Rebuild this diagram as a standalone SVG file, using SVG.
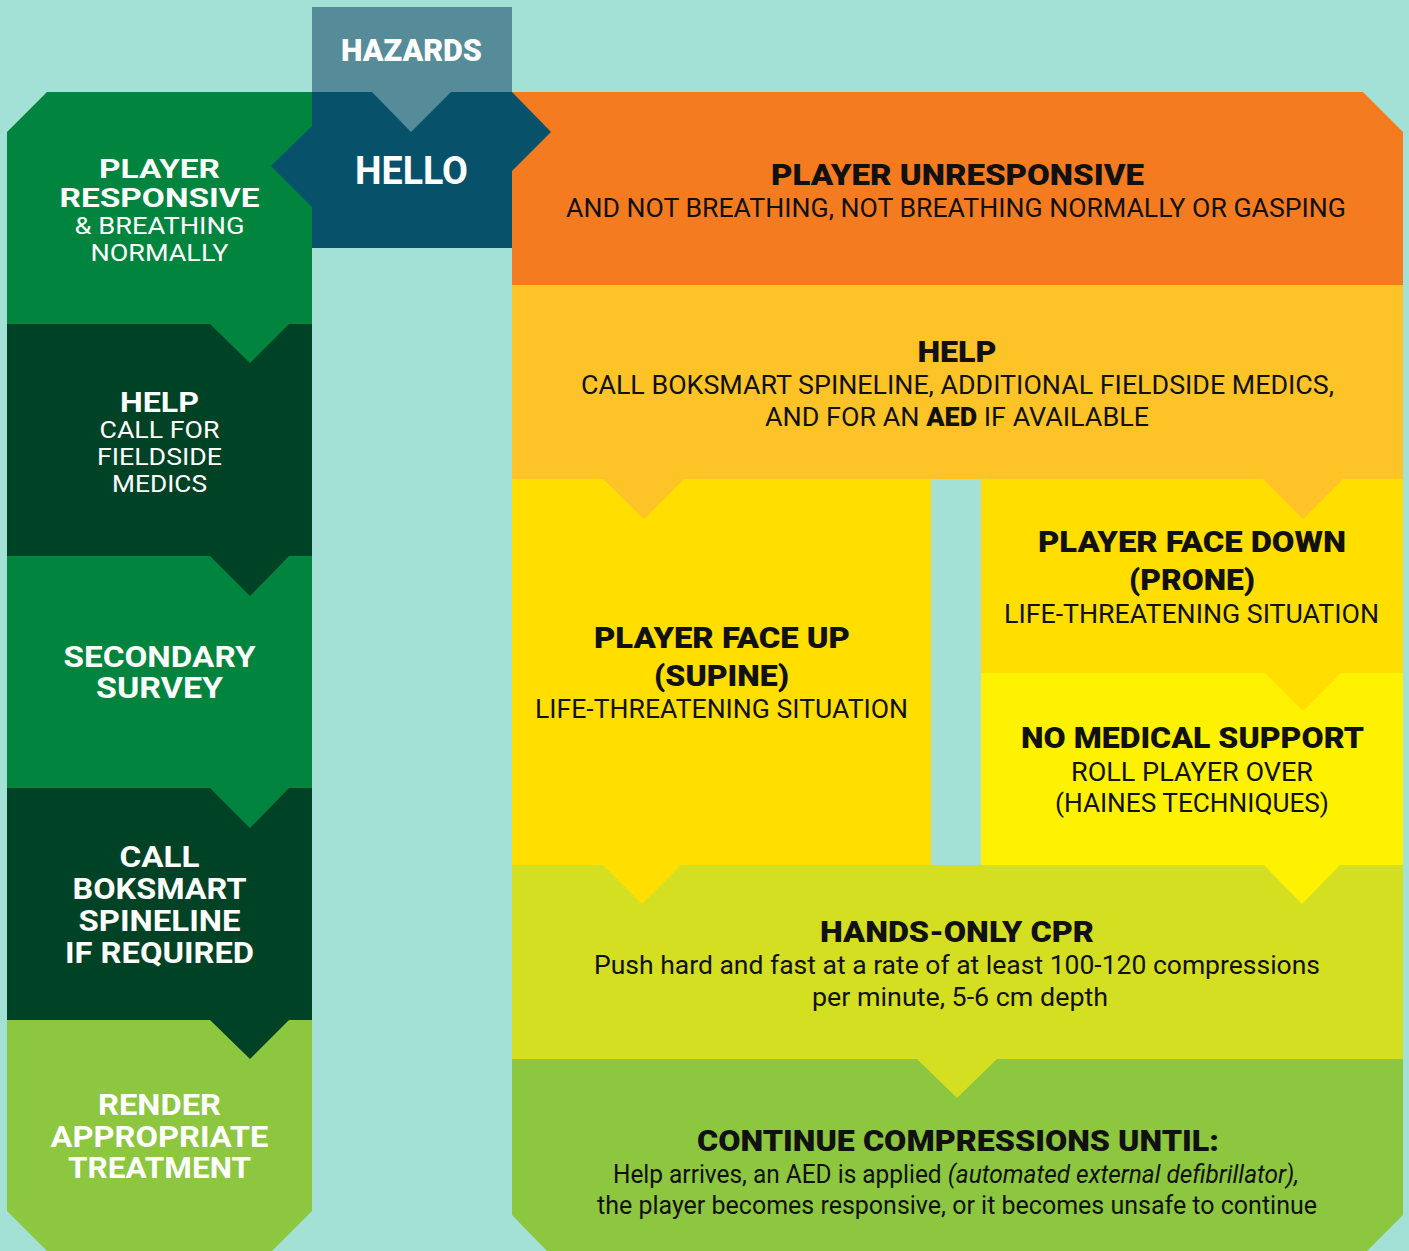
<svg xmlns="http://www.w3.org/2000/svg" width="1409" height="1251" viewBox="0 0 1409 1251">
<style>
.t{font-family:Roboto,"Liberation Sans",Arial,sans-serif;text-anchor:middle}
.w{fill:#ffffff}
.k{fill:#111111}
.b{font-weight:700;font-size:29px}
.bt{font-weight:700;font-size:27px}
.bs{font-weight:700;font-size:26px}
.h{font-weight:900;font-size:30px}
.r{font-weight:400;font-size:24px}
.s{font-weight:400;font-size:26px}
</style>
<rect x="0" y="0" width="1409" height="1251" fill="#a3e0d6"/>

<!-- left column nodes -->
<g id="node-player-responsive">
<polygon points="7,132 47,92 312,92 312,324 7,324" fill="#00843e"/>
<text class="t w bs" x="159.5" y="178" textLength="121" lengthAdjust="spacingAndGlyphs">PLAYER</text>
<text class="t w bs" x="159.5" y="207" textLength="200" lengthAdjust="spacingAndGlyphs">RESPONSIVE</text>
<text class="t w r" x="159.5" y="234" textLength="170" lengthAdjust="spacingAndGlyphs">&amp; BREATHING</text>
<text class="t w r" x="159.5" y="261" textLength="138" lengthAdjust="spacingAndGlyphs">NORMALLY</text>
</g>
<g id="node-help-left">
<rect x="7" y="324" width="305" height="232" fill="#004225"/>
<text class="t w bt" x="159.5" y="412" textLength="79" lengthAdjust="spacingAndGlyphs">HELP</text>
<text class="t w r" x="159.5" y="438" textLength="120" lengthAdjust="spacingAndGlyphs">CALL FOR</text>
<text class="t w r" x="159.5" y="465" textLength="125" lengthAdjust="spacingAndGlyphs">FIELDSIDE</text>
<text class="t w r" x="159.5" y="492" textLength="95" lengthAdjust="spacingAndGlyphs">MEDICS</text>
</g>
<g id="node-secondary-survey">
<rect x="7" y="556" width="305" height="232" fill="#00843e"/>
<text class="t w b" x="159.5" y="667" textLength="192" lengthAdjust="spacingAndGlyphs">SECONDARY</text>
<text class="t w b" x="159.5" y="698" textLength="127" lengthAdjust="spacingAndGlyphs">SURVEY</text>
</g>
<g id="node-call-spineline">
<rect x="7" y="788" width="305" height="232" fill="#004225"/>
<text class="t w b" x="159.5" y="867" textLength="80" lengthAdjust="spacingAndGlyphs">CALL</text>
<text class="t w b" x="159.5" y="899" textLength="174" lengthAdjust="spacingAndGlyphs">BOKSMART</text>
<text class="t w b" x="159.5" y="931" textLength="162" lengthAdjust="spacingAndGlyphs">SPINELINE</text>
<text class="t w b" x="159.5" y="963" textLength="189" lengthAdjust="spacingAndGlyphs">IF REQUIRED</text>
</g>
<g id="node-render-treatment">
<polygon points="7,1020 312,1020 312,1211 272,1251 47,1251 7,1211" fill="#8dc63f"/>
<text class="t w b" x="159.5" y="1115" textLength="123" lengthAdjust="spacingAndGlyphs">RENDER</text>
<text class="t w b" x="159.5" y="1147" textLength="218" lengthAdjust="spacingAndGlyphs">APPROPRIATE</text>
<text class="t w b" x="159.5" y="1178" textLength="183" lengthAdjust="spacingAndGlyphs">TREATMENT</text>
</g>

<!-- right column nodes -->
<g id="node-player-unresponsive">
<polygon points="512,92 1363,92 1403,132 1403,285 512,285" fill="#f47b20"/>
<text class="t k h" x="957.5" y="185" textLength="373" lengthAdjust="spacingAndGlyphs">PLAYER UNRESPONSIVE</text>
<text class="t k s" x="956" y="217" textLength="780" lengthAdjust="spacingAndGlyphs">AND NOT BREATHING, NOT BREATHING NORMALLY OR GASPING</text>
</g>
<g id="node-help-right">
<rect x="512" y="285" width="891" height="194" fill="#fec326"/>
<text class="t k h" x="957" y="362" textLength="79" lengthAdjust="spacingAndGlyphs">HELP</text>
<text class="t k s" x="957.5" y="394" textLength="753" lengthAdjust="spacingAndGlyphs">CALL BOKSMART SPINELINE, ADDITIONAL FIELDSIDE MEDICS,</text>
<text class="t k s" x="957" y="426" textLength="384" lengthAdjust="spacingAndGlyphs">AND FOR AN <tspan font-weight="900">AED</tspan> IF AVAILABLE</text>
</g>
<g id="node-face-up">
<rect x="512" y="479" width="419" height="386" fill="#ffde00"/>
<text class="t k h" x="722" y="648" textLength="256" lengthAdjust="spacingAndGlyphs">PLAYER FACE UP</text>
<text class="t k h" x="721.5" y="686" textLength="135" lengthAdjust="spacingAndGlyphs">(SUPINE)</text>
<text class="t k s" x="721.5" y="718" textLength="373" lengthAdjust="spacingAndGlyphs">LIFE-THREATENING SITUATION</text>
</g>
<g id="node-face-down">
<rect x="981" y="479" width="422" height="194" fill="#ffde00"/>
<text class="t k h" x="1192" y="552" textLength="308" lengthAdjust="spacingAndGlyphs">PLAYER FACE DOWN</text>
<text class="t k h" x="1192" y="590" textLength="126" lengthAdjust="spacingAndGlyphs">(PRONE)</text>
<text class="t k s" x="1191.5" y="623" textLength="375" lengthAdjust="spacingAndGlyphs">LIFE-THREATENING SITUATION</text>
</g>
<g id="node-no-medical">
<rect x="981" y="673" width="422" height="192" fill="#fff200"/>
<text class="t k h" x="1192.5" y="748" textLength="343" lengthAdjust="spacingAndGlyphs">NO MEDICAL SUPPORT</text>
<text class="t k s" x="1192" y="781" textLength="242" lengthAdjust="spacingAndGlyphs">ROLL PLAYER OVER</text>
<text class="t k s" x="1192" y="812" textLength="274" lengthAdjust="spacingAndGlyphs">(HAINES TECHNIQUES)</text>
</g>
<g id="node-cpr">
<rect x="512" y="865" width="891" height="194" fill="#d4df22"/>
<text class="t k h" x="957" y="942" textLength="274" lengthAdjust="spacingAndGlyphs">HANDS-ONLY CPR</text>
<text class="t k s" x="957" y="974" textLength="726" lengthAdjust="spacingAndGlyphs">Push hard and fast at a rate of at least 100-120 compressions</text>
<text class="t k s" x="960" y="1006" textLength="296" lengthAdjust="spacingAndGlyphs">per minute, 5-6 cm depth</text>
</g>
<g id="node-continue">
<polygon points="512,1059 1403,1059 1403,1215 1367,1251 547,1251 512,1215" fill="#8dc63f"/>
<text class="t k h" x="958" y="1151" textLength="522" lengthAdjust="spacingAndGlyphs">CONTINUE COMPRESSIONS UNTIL:</text>
<text class="t k s" x="956" y="1183" textLength="686" lengthAdjust="spacingAndGlyphs">Help arrives, an AED is applied <tspan font-style="italic">(automated external defibrillator),</tspan></text>
<text class="t k s" x="957" y="1214" textLength="720" lengthAdjust="spacingAndGlyphs">the player becomes responsive, or it becomes unsafe to continue</text>
</g>

<!-- hazards and hello -->
<g id="node-hazards">
<rect x="312" y="7" width="200" height="85" fill="#568b99"/>
<text class="t w" x="411.5" y="61" font-size="31" font-weight="900" textLength="141" lengthAdjust="spacingAndGlyphs">HAZARDS</text>
</g>
<g id="node-hello">
<rect x="312" y="92" width="200" height="156" fill="#07526a"/>
<text class="t w" x="411.5" y="184" font-size="38" font-weight="700" textLength="113" lengthAdjust="spacingAndGlyphs">HELLO</text>
</g>

<!-- connectors (chevron arrows) -->
<g id="connectors">
<polygon points="372,92 411,132 451,92" fill="#568b99"/>
<polygon points="312,126 271,166 312,207" fill="#07526a"/>
<polygon points="512,92 551,132 512,171" fill="#07526a"/>
<polygon points="210,324 250,363 289,324" fill="#00843e"/>
<polygon points="210,556 250,596 289,556" fill="#004225"/>
<polygon points="210,788 250,828 289,788" fill="#00843e"/>
<polygon points="210,1020 250,1059 289,1020" fill="#004225"/>
<polygon points="603,479 644,519 684,479" fill="#fec326"/>
<polygon points="1263,479 1303,519 1343,479" fill="#fec326"/>
<polygon points="1265,673 1303,711 1341,673" fill="#ffde00"/>
<polygon points="603,865 642,904 681,865" fill="#ffde00"/>
<polygon points="1264,865 1302,904 1340,865" fill="#fff200"/>
<polygon points="917,1059 957,1098 997,1059" fill="#d4df22"/>
</g>
</svg>
